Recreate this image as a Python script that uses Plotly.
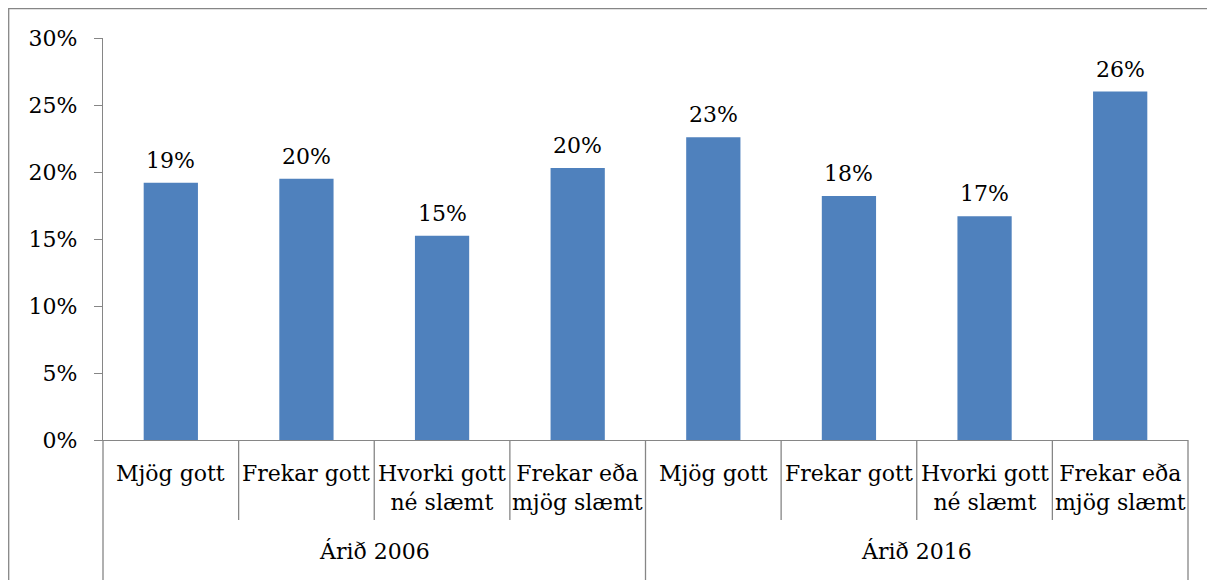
import plotly.graph_objects as go

groups = ["Árið 2006", "Árið 2016"]
categories = ["Mjög gott", "Frekar gott", "Hvorki gott<br>né slæmt", "Frekar eða<br>mjög slæmt"]
values_2006 = [19.2, 19.5, 15.25, 20.3]
values_2016 = [22.6, 18.2, 16.7, 26.0]
labels_2006 = ["19%", "20%", "15%", "20%"]
labels_2016 = ["23%", "18%", "17%", "26%"]
y_ticks = [0, 5, 10, 15, 20, 25, 30]
y_tick_labels = ["0%", "5%", "10%", "15%", "20%", "25%", "30%"]

FONT = "DejaVu Serif"
FS = 22
GRAY = "#868686"
BAR = "#4F81BD"

values = values_2006 + values_2016
labels = labels_2006 + labels_2016
n_cat = len(categories)
xs = list(range(len(values)))

W, H = 1207, 572
L, R, T, B = 95, 27, 30, 140
PW, PH = W - L - R, H - T - B

fig = go.Figure()
fig.add_trace(go.Bar(x=xs, y=values, width=0.4, marker=dict(color=BAR, line=dict(width=0)),
                     hoverinfo="skip"))

ann = []
for x, v, t in zip(xs, values, labels):
    ann.append(dict(x=x, y=v, xref="x", yref="y", text=t, showarrow=False,
                    yanchor="bottom", yshift=8, font=dict(family=FONT, size=FS, color="black")))
for gi, g in enumerate(groups):
    for ci, c in enumerate(categories):
        ann.append(dict(x=gi * n_cat + ci, y=0, xref="x", yref="paper", text=c, showarrow=False,
                        yanchor="top", yshift=-19, font=dict(family=FONT, size=FS, color="black")))
    ann.append(dict(x=gi * n_cat + (n_cat - 1) / 2, y=0, xref="x", yref="paper", text=g,
                    showarrow=False, yanchor="middle", yshift=-111,
                    font=dict(family=FONT, size=FS, color="black")))

shapes = []
total = len(values)
for b in range(total + 1):
    xd = b / total
    y1 = -150 / PH if b % n_cat == 0 else -80 / PH
    shapes.append(dict(type="line", xref="x domain", yref="paper", x0=xd, x1=xd, y0=0, y1=y1,
                       line=dict(color=GRAY, width=1.3)))
# outer chart border
shapes.append(dict(type="rect", xref="paper", yref="paper", x0=-(L - 0.7) / PW, x1=(PW + R + 20) / PW,
                   y0=-(B + 20) / PH, y1=1 + (T - 0.7) / PH,
                   line=dict(color=GRAY, width=1.3), fillcolor="rgba(0,0,0,0)"))

fig.update_layout(
    width=W, height=H,
    margin=dict(l=L, r=R, t=T, b=B),
    paper_bgcolor="white", plot_bgcolor="white",
    showlegend=False,
    annotations=ann, shapes=shapes,
    font=dict(family=FONT, size=FS, color="black"),
    xaxis=dict(range=[-0.5, total - 0.5], showticklabels=False, showgrid=False, zeroline=False,
               showline=True, linecolor=GRAY, linewidth=1.3, ticks=""),
    yaxis=dict(range=[0, 30], tickvals=y_ticks, ticktext=y_tick_labels, showgrid=False, zeroline=False,
               showline=True, linecolor=GRAY, linewidth=1.3, ticks="outside", ticklen=8,
               tickcolor=GRAY, tickwidth=1.3, ticklabelstandoff=12,
               tickfont=dict(family=FONT, size=FS, color="black")),
)

fig.write_html("out.html")
